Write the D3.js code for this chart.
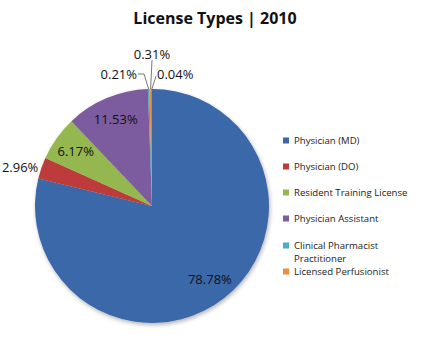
<!DOCTYPE html>
<html><head><meta charset="utf-8">
<script src="https://cdn.jsdelivr.net/npm/d3@7"></script>
<style>body{margin:0;background:#fff}svg{display:block}</style>
</head><body>
<svg id="c" width="430" height="348"></svg>
<script>
const categories = ["Physician (MD)","Physician (DO)","Resident Training License","Physician Assistant","Clinical Pharmacist Practitioner","Licensed Perfusionist","Other"];
const legendLines = [["Physician (MD)"],["Physician (DO)"],["Resident Training License"],["Physician Assistant"],["Clinical Pharmacist","Practitioner"],["Licensed Perfusionist"]];
const values = [78.78, 2.96, 6.17, 11.53, 0.21, 0.31, 0.04];
const labels = ["78.78%","2.96%","6.17%","11.53%","0.21%","0.31%","0.04%"];
const colors = ["#3b67a9","#bd3b3a","#95b74f","#7b5c9f","#4aacc5","#f08e3e","#2c4d75"];

const svg = d3.select("#c");
const font = "Open Sans, Liberation Sans, sans-serif";
svg.append("text").attr("x",215).attr("y",24).attr("text-anchor","middle")
  .attr("font-family",font).attr("font-weight","bold").attr("font-size",16).attr("fill","#111")
  .text("License Types | 2010");

const cx = 152, cy = 206, R = 117;
const pie = d3.pie().sort(null).value(d=>d)(values);
const arc = d3.arc().innerRadius(0).outerRadius(R);
const g = svg.append("g").attr("transform",`translate(${cx},${cy})`);
const defs = svg.append("defs");
const f = defs.append("filter").attr("id","sh").attr("x","-20%").attr("y","-20%").attr("width","140%").attr("height","140%");
f.append("feGaussianBlur").attr("in","SourceAlpha").attr("stdDeviation",2);
f.append("feOffset").attr("dx",1).attr("dy",2).attr("result","b");
f.append("feComponentTransfer").append("feFuncA").attr("type","linear").attr("slope",0.3);
const m = f.append("feMerge"); m.append("feMergeNode"); m.append("feMergeNode").attr("in","SourceGraphic");
const pg = g.append("g").attr("filter","url(#sh)");
pg.selectAll("path").data(pie).join("path").attr("d",arc).attr("fill",(d,i)=>colors[i]);

const fs = 13;
// in-slice labels
const inner = d3.arc().innerRadius(R*0.8).outerRadius(R*0.8);
[0,2,3].forEach(i=>{
  const c = inner.centroid(pie[i]);
  g.append("text").attr("x",c[0]).attr("y",c[1]).attr("text-anchor","middle").attr("dy","0.35em")
   .attr("font-family",font).attr("font-size",fs).attr("fill","#111").text(labels[i]);
});
// outside label for DO
const edge = d3.arc().innerRadius(R).outerRadius(R);
const cDO = edge.centroid(pie[1]);
g.append("text").attr("x",cDO[0]-3).attr("y",cDO[1]-1).attr("text-anchor","end").attr("dy","0.35em")
 .attr("font-family",font).attr("font-size",fs).attr("fill","#111").text(labels[1]);

// tiny slices with leader lines
const tiny = [
  {i:4, lx:-15, ly:-132, anchor:"end", path:(p)=>[[-14,-132],[-8,-132],[p[0],p[1]]]},
  {i:5, lx:0, ly:-152, anchor:"middle", path:(p)=>[[0,-146],[p[0],p[1]]]},
  {i:6, lx:5, ly:-132, anchor:"start", path:(p)=>[[4,-130],[p[0],p[1]]]}
];
tiny.forEach(t=>{
  const p = edge.centroid(pie[t.i]);
  g.append("path").attr("d",d3.line()(t.path(p))).attr("fill","none").attr("stroke","#555").attr("stroke-width",0.8);
  g.append("text").attr("x",t.lx).attr("y",t.ly).attr("text-anchor",t.anchor).attr("dy","0.35em")
   .attr("font-family",font).attr("font-size",fs).attr("fill","#111").text(labels[t.i]);
});

// legend
const ly = [141,167,193,219,246,272];
const lg = svg.append("g");
legendLines.forEach((ls,i)=>{
  lg.append("rect").attr("x",283).attr("y",ly[i]-3.5).attr("width",6).attr("height",6).attr("fill",colors[i]);
  ls.forEach((s,k)=>{
    lg.append("text").attr("x",294).attr("y",ly[i]+k*13).attr("dy","0.35em")
      .attr("font-family",font).attr("font-size",9.6).attr("fill","#222").text(s);
  });
});
</script>
</body></html>
